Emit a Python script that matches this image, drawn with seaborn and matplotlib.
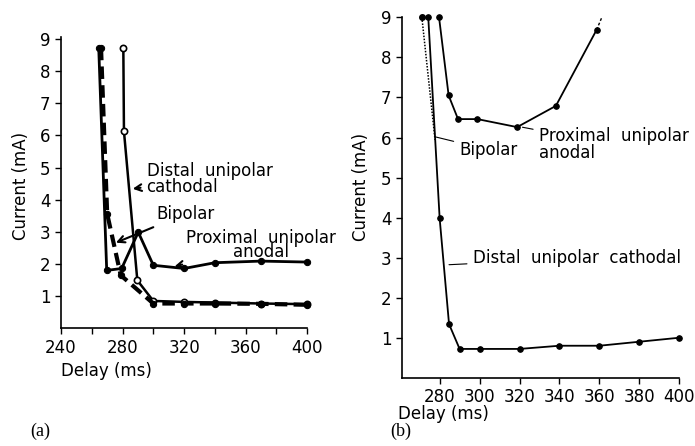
import numpy as np
import matplotlib
matplotlib.use("Agg")
import matplotlib.pyplot as plt
import seaborn as sns

# panel (a) values
a_prox_x = [264.5, 269.7, 279.4, 290.2, 300, 320, 340, 370, 400]
a_prox_y = [8.73, 1.80, 1.86, 2.99, 1.96, 1.86, 2.04, 2.09, 2.06]
a_dist_x = [280.5, 280.9, 289.6, 300, 320, 340, 370, 400]
a_dist_y = [8.73, 6.13, 1.49, 0.85, 0.82, 0.80, 0.77, 0.75]
a_bip_x = [266, 270, 278.8, 300, 320, 340, 370, 400]
a_bip_y = [8.73, 3.56, 1.65, 0.77, 0.77, 0.77, 0.76, 0.73]

# panel (b) values
b_prox_x = [279.7, 284.5, 289.2, 298.9, 318.8, 338.2, 358.6]
b_prox_y = [9.0, 7.05, 6.46, 6.46, 6.26, 6.79, 8.69]
b_prox_ext_x = [358.6, 361.2]
b_prox_ext_y = [8.69, 9.0]
b_dist_x = [274.3, 280, 284.7, 290, 300, 320, 340, 360, 380, 400]
b_dist_y = [9.0, 3.98, 1.34, 0.72, 0.72, 0.72, 0.80, 0.80, 0.90, 1.0]
b_bip_x = [271.1, 277.7]
b_bip_y = [9.0, 5.94]

sns.set_style("ticks")
plt.rcParams['font.family'] = ['DejaVu Sans']
plt.rcParams['text.color'] = 'black'
plt.rcParams['axes.labelcolor'] = 'black'

fig = plt.figure(figsize=(6.95, 4.46), dpi=100)
ax1 = fig.add_axes([0.0878, 0.264, 0.3542, 0.652])
ax2 = fig.add_axes([0.578, 0.153, 0.3994, 0.808])

k = 'black'

# ---- (a)
sns.lineplot(x=a_prox_x, y=a_prox_y, ax=ax1, color=k, lw=2, marker='o', ms=4.5, mec=k,
             estimator=None, sort=False, clip_on=False)
sns.lineplot(x=a_dist_x, y=a_dist_y, ax=ax1, color=k, lw=1.8, marker='o', ms=4.5,
             mfc='white', mec=k, mew=1.2, estimator=None, sort=False, clip_on=False)
sns.lineplot(x=a_bip_x, y=a_bip_y, ax=ax1, color=k, lw=3, ls=(0, (3, 1.5)), marker='o', ms=4.5,
             mec=k, estimator=None, sort=False, clip_on=False)

ax1.set_xlim(240, 400)
ax1.set_ylim(0, 9.05)
ax1.set_xticks(np.arange(240, 401, 20))
ax1.set_xticklabels([str(v) if v % 40 == 0 else '' for v in range(240, 401, 20)])
ax1.set_yticks(range(1, 10))
ax1.set_xlabel('Delay (ms)', fontsize=12, loc='left')
ax1.set_ylabel('Current (mA)', fontsize=12)
ax1.yaxis.set_label_coords(-0.125, 0.49)

arr = dict(arrowstyle='->', color=k, lw=1.5)
ax1.annotate('Distal  unipolar\ncathodal', xy=(284.8, 4.33), xytext=(295.6, 4.65),
             fontsize=12, va='center', ha='left', linespacing=0.85, arrowprops=arr)
ax1.annotate('Bipolar', xy=(274, 2.63), xytext=(302, 3.56),
             fontsize=12, va='center', ha='left', arrowprops=arr)
ax1.annotate('Proximal  unipolar\nanodal', xy=(312, 1.9), xytext=(321, 2.6),
             fontsize=12, va='center', ha='left', multialignment='center',
             linespacing=0.7, arrowprops=arr)

# ---- (b)
sns.lineplot(x=b_prox_x, y=b_prox_y, ax=ax2, color=k, lw=1.3, marker='o', ms=4, mec=k,
             estimator=None, sort=False, clip_on=False)
sns.lineplot(x=b_prox_ext_x, y=b_prox_ext_y, ax=ax2, color=k, lw=1, ls=(0, (2, 1.5)),
             estimator=None, sort=False, clip_on=False)
sns.lineplot(x=b_dist_x, y=b_dist_y, ax=ax2, color=k, lw=1.3, marker='o', ms=4, mec=k,
             estimator=None, sort=False, clip_on=False)
sns.lineplot(x=b_bip_x, y=b_bip_y, ax=ax2, color=k, lw=1.1, ls=(0, (1, 1)),
             estimator=None, sort=False, clip_on=False)
ax2.plot(b_bip_x[:1], b_bip_y[:1], 'o', color=k, ms=4, clip_on=False)

ax2.set_xlim(261, 400)
ax2.set_ylim(0, 9)
ax2.set_xticks(range(280, 401, 20))
ax2.set_yticks(range(1, 10))
ax2.set_xlabel('Delay (ms)', fontsize=12, loc='left')
ax2.xaxis.set_label_coords(-0.012, -0.075)
ax2.set_ylabel('Current (mA)', fontsize=12)
ax2.yaxis.set_label_coords(-0.115, 0.53)

ln = dict(arrowstyle='-', color=k, lw=0.8)
ax2.annotate('Proximal  unipolar\nanodal', xy=(320.1, 6.27), xytext=(329.8, 5.82),
             fontsize=12, va='center', ha='left', linespacing=0.95, arrowprops=ln)
ax2.annotate('Bipolar', xy=(276.7, 6.03), xytext=(290, 5.69),
             fontsize=12, va='center', ha='left', arrowprops=ln)
ax2.annotate('Distal  unipolar  cathodal', xy=(283.3, 2.82), xytext=(296.7, 2.98),
             fontsize=12, va='center', ha='left', arrowprops=ln)

for ax in (ax1, ax2):
    sns.despine(ax=ax)
    ax.tick_params(labelsize=12, direction='out', length=4, width=1, color=k, labelcolor=k)
    for s in ('left', 'bottom'):
        ax.spines[s].set_color(k)
        ax.spines[s].set_linewidth(1.2)

fig.text(0.043, 0.022, '(a)', fontsize=13, family='Liberation Serif')
fig.text(0.562, 0.022, '(b)', fontsize=13, family='Liberation Serif')

fig.savefig('out.png', dpi=100)
